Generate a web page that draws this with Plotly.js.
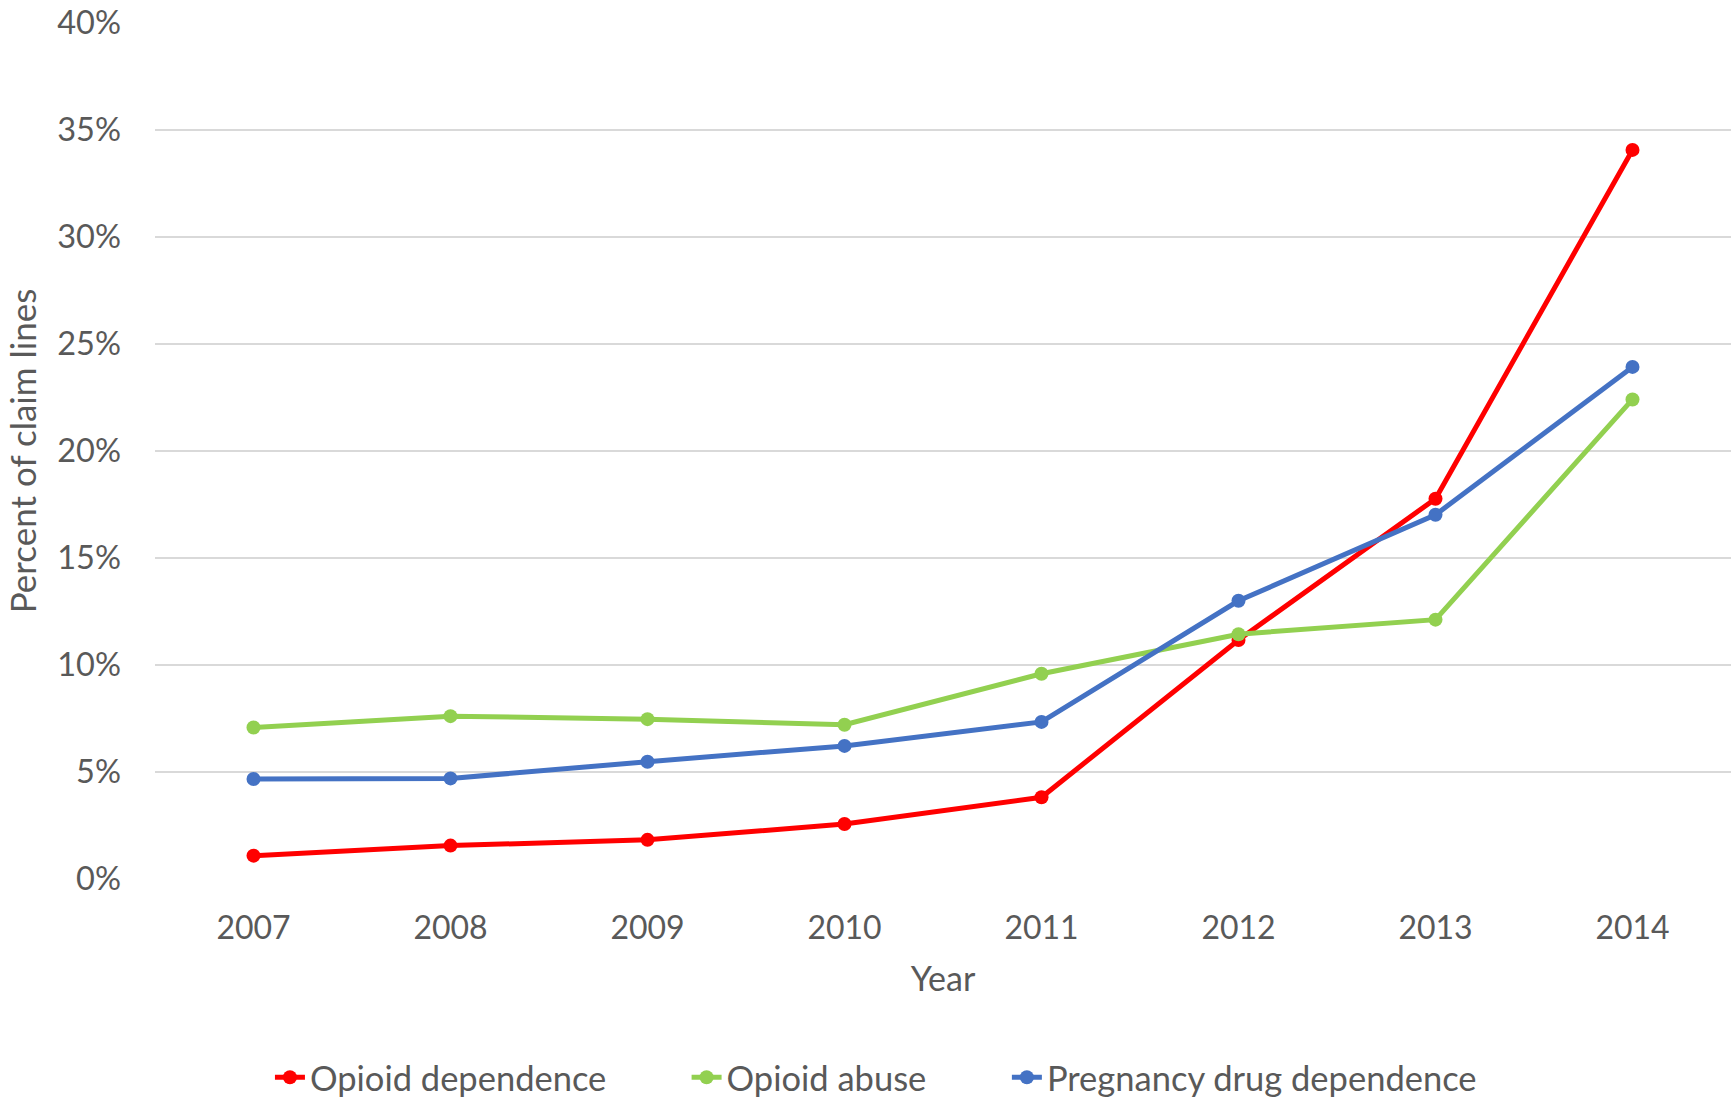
<!DOCTYPE html>
<html>
<head>
<meta charset="utf-8">
<script src="https://cdn.plot.ly/plotly-3.0.1.min.js"></script>
<style>html,body{margin:0;padding:0;background:#fff;}#chart{width:1736px;height:1097px;}</style>
</head>
<body>
<div id="chart"></div>
<script>
const years = ["2007","2008","2009","2010","2011","2012","2013","2014"];
const opioidDependence = [0.0109, 0.0156, 0.0183, 0.0257, 0.0382, 0.1117, 0.1777, 0.3407];
const opioidAbuse = [0.0708, 0.0761, 0.0747, 0.0721, 0.0959, 0.1144, 0.1212, 0.2241];
const pregnancyDrugDependence = [0.0467, 0.0470, 0.0548, 0.0622, 0.0734, 0.1300, 0.1702, 0.2393];
const seriesNames = ["Opioid dependence", "Opioid abuse", "Pregnancy drug dependence"];
const seriesColors = ["#FF0000", "#92D050", "#4472C4"];

const font = "Lato, 'Open Sans', sans-serif";
const grey = "#595959";
const legendIds = ["legend", "legend2", "legend3"];
const legendX = [0.1555, 0.3955, 0.58];
const seriesData = [opioidDependence, opioidAbuse, pregnancyDrugDependence];
const traces = seriesData.map((ys, i) => ({
  type: "scatter",
  mode: "lines+markers",
  name: seriesNames[i],
  legend: legendIds[i],
  x: years,
  y: ys,
  line: {color: seriesColors[i], width: 5},
  marker: {color: seriesColors[i], size: 14}
}));

const layout = {
  width: 1736,
  height: 1097,
  margin: {l: 155, r: 5, t: 23, b: 218},
  paper_bgcolor: "#fff",
  plot_bgcolor: "#fff",
  font: {family: font, color: grey, size: 32},
  showlegend: true,
  xaxis: {
    type: "category",
    range: [-0.5, 7.5],
    showgrid: false,
    zeroline: false,
    showline: false,
    ticks: "",
    ticklabelstandoff: 27,
    tickfont: {family: font, size: 32, color: grey},
    title: {text: "Year", font: {family: font, size: 34, color: grey}, standoff: 22}
  },
  yaxis: {
    range: [0, 0.40],
    dtick: 0.05,
    tickformat: ".0%",
    showgrid: true,
    gridcolor: "#D9D9D9",
    gridwidth: 1.5,
    zeroline: false,
    showline: false,
    ticks: "",
    ticklabelstandoff: 33,
    tickfont: {family: font, size: 32.5, color: grey},
    title: {text: "Percent of claim lines", font: {family: font, size: 35, color: grey}, standoff: 10}
  }
};
legendIds.forEach((id, i) => {
  layout[id] = {
    orientation: "h",
    xref: "container",
    yref: "container",
    x: legendX[i],
    xanchor: "left",
    y: 0.018,
    yanchor: "middle",
    font: {family: font, size: 34.5, color: grey},
    bgcolor: "rgba(0,0,0,0)"
  };
});

Plotly.newPlot("chart", traces, layout, {displayModeBar: false, staticPlot: true});
</script>
</body>
</html>
